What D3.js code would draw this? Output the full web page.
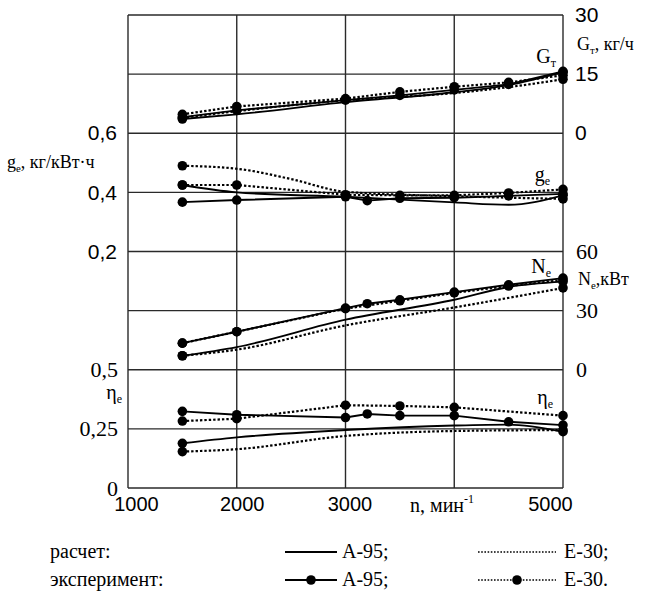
<!DOCTYPE html>
<html>
<head>
<meta charset="utf-8">
<script src="https://cdn.jsdelivr.net/npm/d3@7"></script>
<style>
  body { margin: 0; background: #fff; }
</style>
</head>
<body>
<div id="chart"></div>
<script>
// engine speed, 1/min
const nTicks = [1000, 2000, 3000, 4000, 5000];

// fuel consumption G_T, kg/h  ([n, value])
const gtCalcA95 = [[1500, 3.6], [2000, 4.8], [3000, 7.9], [4000, 10.4], [4500, 12.2], [5000, 15.5]];
const gtCalcE30 = [[1500, 3.9], [2000, 5.6], [3000, 8.4], [4000, 10.2], [4500, 11.7], [5000, 13.7]];
const gtExpA95 = [[1500, 4.1], [2000, 5.8], [3000, 8.4], [3500, 9.6], [4000, 11.0], [4500, 12.4], [5000, 15.7]];
const gtExpE30 = [[1500, 4.8], [2000, 6.8], [3000, 8.8], [3500, 10.5], [4000, 11.8], [4500, 12.9], [5000, 14.7]];

// specific consumption g_e, kg/kWh
const geCalcA95 = [[1500, 0.425], [2000, 0.400], [3000, 0.385], [4000, 0.366], [4500, 0.358], [5000, 0.390]];
const geCalcE30 = [[1500, 0.490], [2000, 0.480], [2500, 0.445], [3000, 0.402], [4000, 0.387], [4500, 0.382], [5000, 0.378]];
const geExpA95 = [[1500, 0.367], [2000, 0.374], [3000, 0.385], [3200, 0.372], [3500, 0.380], [4000, 0.382], [4500, 0.388], [5000, 0.395]];
const geExpE30 = [[1500, 0.425], [2000, 0.425], [3000, 0.392], [3500, 0.390], [4000, 0.390], [4500, 0.398], [5000, 0.410]];

// power N_e, kW
const neCalcA95 = [[1500, 7.1], [2000, 11.5], [3000, 25.4], [4000, 35.5], [4500, 42.0], [5000, 44.7]];
const neCalcE30 = [[1500, 7.1], [2000, 10.2], [3000, 22.5], [4000, 31.6], [5000, 41.5]];
const neExpA95 = [[1500, 13.5], [2000, 19.3], [3000, 31.3], [3200, 33.5], [3500, 35.5], [4000, 39.4], [4500, 43.1], [5000, 46.5]];
const neExpE30 = [[1500, 13.5], [2000, 19.3], [3000, 31.0], [3500, 35.0], [4000, 39.0], [4500, 42.5], [5000, 45.5]];

// efficiency eta_e
const etaCalcA95 = [[1500, 0.189], [2000, 0.214], [3000, 0.245], [4000, 0.264], [4500, 0.268], [5000, 0.238]];
const etaCalcE30 = [[1500, 0.154], [2000, 0.164], [3000, 0.220], [4000, 0.241], [5000, 0.245]];
const etaExpA95 = [[1500, 0.324], [2000, 0.310], [3000, 0.298], [3200, 0.313], [3500, 0.306], [4000, 0.306], [4500, 0.280], [5000, 0.266]];
const etaExpE30 = [[1500, 0.283], [2000, 0.293], [3000, 0.350], [3500, 0.347], [4000, 0.341], [5000, 0.306]];

const SANS = "'Liberation Sans'";
const SERIF = "'Liberation Serif'";

const width = 653, height = 592;
const plotL = 128, plotR = 563, plotT = 15, plotB = 488;

const svg = d3.select("#chart").append("svg")
  .attr("width", width)
  .attr("height", height);

const x = d3.scaleLinear().domain([1000, 5000]).range([plotL, plotR]);
// 8 equal bands, each panel gets two
const rows = d3.scaleLinear().domain([0, 8]).range([plotB, plotT]);
const yGT = d3.scaleLinear().domain([0, 30]).range([rows(6), rows(8)]);
const yGe = d3.scaleLinear().domain([0.2, 0.6]).range([rows(4), rows(6)]);
const yNe = d3.scaleLinear().domain([0, 60]).range([rows(2), rows(4)]);
const yEta = d3.scaleLinear().domain([0, 0.5]).range([rows(0), rows(2)]);

const comma = d => String(d).replace(".", ",");

// grid
const grid = svg.append("g").attr("stroke", "#2a2a2a").attr("stroke-width", 1.4);
grid.selectAll(".h").data(d3.range(9)).join("line")
  .attr("x1", plotL).attr("x2", plotR)
  .attr("y1", d => rows(d)).attr("y2", d => rows(d));
grid.selectAll(".v").data(nTicks).join("line")
  .attr("x1", d => x(d)).attr("x2", d => x(d))
  .attr("y1", plotT).attr("y2", plotB);

// axes
function axis(gen, tx, font, size) {
  const g = svg.append("g")
    .attr("transform", "translate(" + tx + ",0)")
    .call(gen);
  g.select(".domain").remove();
  g.attr("font-family", null).attr("font-size", null);
  g.selectAll("text")
    .style("font-family", font)
    .style("font-size", size + "px")
    .attr("fill", "#000");
  return g;
}
axis(d3.axisLeft(yGe).tickValues([0.2, 0.4, 0.6]).tickSize(0).tickPadding(11)
  .tickFormat(d => d3.format(".1f")(d).replace(".", ",")), plotL, SANS, 21);
axis(d3.axisLeft(yEta).tickValues([0, 0.25, 0.5]).tickSize(0).tickPadding(10)
  .tickFormat(comma), plotL, SERIF, 22);
axis(d3.axisRight(yGT).tickValues([0, 15, 30]).tickSize(0).tickPadding(12), plotR, SANS, 21);
axis(d3.axisRight(yNe).tickValues([0, 30, 60]).tickSize(0).tickPadding(13), plotR, SERIF, 22);

// x labels sit a little inward at the ends
const xShift = { 1000: 8, 2000: 5, 3000: 4, 5000: -13 };
const xAxis = axis(d3.axisBottom(x).tickValues(nTicks).tickSize(0).tickPadding(9)
  .tickFormat(d => d === 4000 ? "" : d), 0, SANS, 20);
xAxis.attr("transform", "translate(0," + plotB + ")");
xAxis.selectAll("text").attr("dx", d => xShift[d] || 0);

// text with subscript / superscript
function label(px, py, parts, size, anchor) {
  const t = svg.append("text")
    .style("font-family", SERIF)
    .style("font-size", size + "px")
    .attr("x", px).attr("y", py)
    .attr("text-anchor", anchor || "start");
  parts.forEach(p => {
    const s = t.append("tspan").text(p.t);
    if (p.sub) s.style("font-size", (size * 0.6) + "px").attr("dy", size * 0.2);
    if (p.sup) s.style("font-size", (size * 0.6) + "px").attr("dy", -size * 0.45);
    if (p.back) s.attr("dy", p.back);
  });
  return t;
}
label(410, 512, [{ t: "n, мин" }, { t: "-1", sup: true }], 20);
label(7, 168, [{ t: "g" }, { t: "e", sub: true }, { t: ", кг/кВт·ч", back: -3.6 }], 18);
label(577, 50, [{ t: "G" }, { t: "т", sub: true }, { t: ", кг/ч", back: -3.6 }], 18);
label(556, 63, [{ t: "G" }, { t: "т", sub: true }], 20, "end");
label(550, 181, [{ t: "g" }, { t: "e", sub: true }], 20, "end");
label(551, 273, [{ t: "N" }, { t: "e", sub: true }], 20, "end");
label(578, 285, [{ t: "N" }, { t: "e", sub: true }, { t: ",кВт", back: -3.6 }], 18);
label(553, 404, [{ t: "η" }, { t: "e", sub: true }], 20, "end");
label(122, 399, [{ t: "η" }, { t: "e", sub: true }], 20, "end");

// series
const dash = "2.4,2";
function draw(data, y, dotted, calc) {
  const line = d3.line()
    .x(d => x(d[0])).y(d => y(d[1]))
    .curve(calc ? d3.curveMonotoneX : d3.curveLinear);
  svg.append("path")
    .datum(data)
    .attr("d", line)
    .attr("fill", "none")
    .attr("stroke", "#000")
    .attr("stroke-width", dotted ? 2.2 : 1.9)
    .attr("stroke-dasharray", dotted ? dash : null);
  // calculated curves only carry end points, experiment curves every point
  const dots = calc ? [data[0], data[data.length - 1]] : data;
  svg.append("g").selectAll("circle").data(dots).join("circle")
    .attr("cx", d => x(d[0])).attr("cy", d => y(d[1]))
    .attr("r", 4.8).attr("fill", "#000");
}
[[gtCalcA95, gtCalcE30, gtExpA95, gtExpE30, yGT],
 [geCalcA95, geCalcE30, geExpA95, geExpE30, yGe],
 [neCalcA95, neCalcE30, neExpA95, neExpE30, yNe],
 [etaCalcA95, etaCalcE30, etaExpA95, etaExpE30, yEta]].forEach(p => {
  draw(p[0], p[4], false, true);
  draw(p[1], p[4], true, true);
  draw(p[2], p[4], false, false);
  draw(p[3], p[4], true, false);
});

// legend
const legRows = [
  { name: "расчет:", y: 558, a: "А-95;", e: "Е-30;", dot: false },
  { name: "эксперимент:", y: 586, a: "А-95;", e: "Е-30.", dot: true }
];
const leg = svg.append("g");
legRows.forEach(r => {
  const txt = (px, s) => leg.append("text").attr("x", px).attr("y", r.y).text(s)
    .style("font-family", SERIF).style("font-size", "20px");
  txt(50, r.name);
  leg.append("line").attr("x1", 285).attr("x2", 337).attr("y1", r.y - 6).attr("y2", r.y - 6)
    .attr("stroke", "#000").attr("stroke-width", 2);
  txt(342, r.a);
  leg.append("line").attr("x1", 478).attr("x2", 556).attr("y1", r.y - 6).attr("y2", r.y - 6)
    .attr("stroke", "#000").attr("stroke-width", 1.6).attr("stroke-dasharray", "1.6,1.6");
  txt(564, r.e);
  if (r.dot) {
    leg.append("circle").attr("cx", 311).attr("cy", r.y - 6).attr("r", 4.8);
    leg.append("circle").attr("cx", 517).attr("cy", r.y - 6).attr("r", 4.8);
  }
});
</script>
</body>
</html>
